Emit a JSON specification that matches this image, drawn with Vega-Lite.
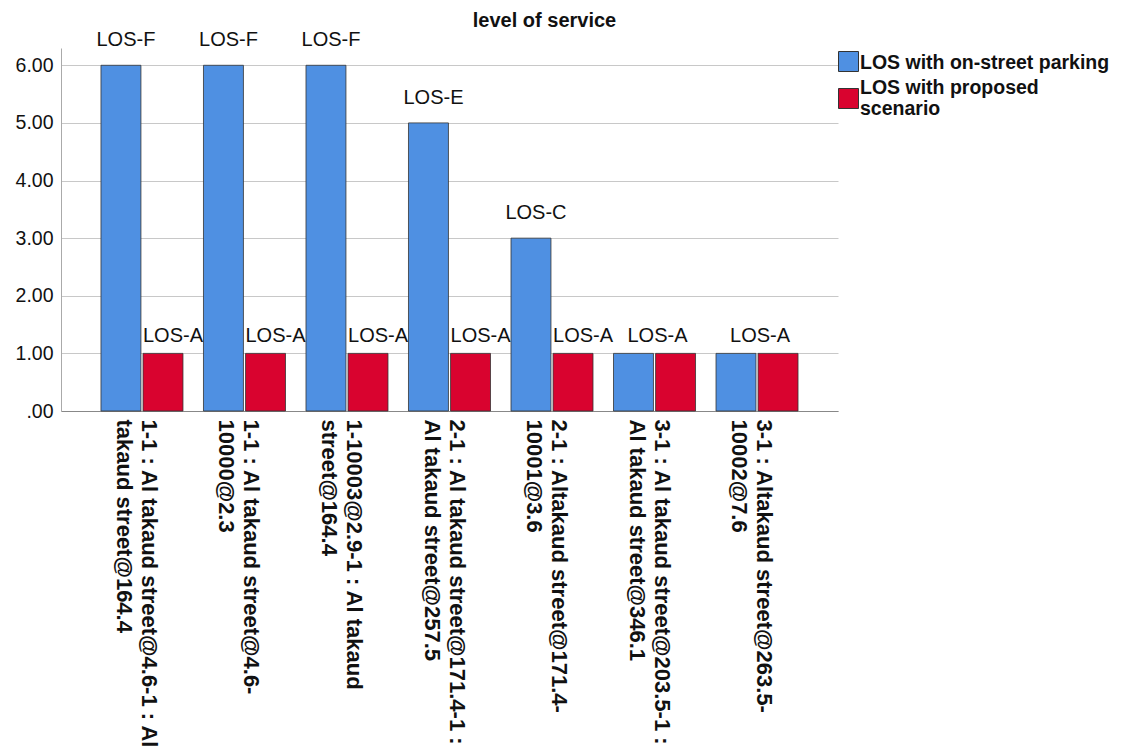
{
  "$schema": "https://vega.github.io/schema/vega-lite/v6.json",
  "width": 777,
  "height": 363,
  "autosize": {"type": "none"},
  "padding": {"left": 61, "top": 48, "right": 294, "bottom": 345},
  "background": "white",
  "title": {
    "text": "level of service",
    "font": "Liberation Sans",
    "fontSize": 20,
    "fontWeight": "bold",
    "color": "#111111",
    "anchor": "middle",
    "frame": "group",
    "dx": 95,
    "offset": -1
  },
  "config": {
    "view": {"stroke": null},
    "font": "Liberation Sans",
    "axis": {"labelColor": "#111111", "titleColor": "#111111"}
  },
  "data": {
    "values": [
      {"cat": "1-1 : Al takaud street@4.6-1 : Al|takaud street@164.4", "series": "LOS with on-street parking", "value": 6, "lbl": "LOS-F", "shared": false},
      {"cat": "1-1 : Al takaud street@4.6-1 : Al|takaud street@164.4", "series": "LOS with proposed scenario", "value": 1, "lbl": "LOS-A", "shared": false},
      {"cat": "1-1 : Al takaud street@4.6-|10000@2.3", "series": "LOS with on-street parking", "value": 6, "lbl": "LOS-F", "shared": false},
      {"cat": "1-1 : Al takaud street@4.6-|10000@2.3", "series": "LOS with proposed scenario", "value": 1, "lbl": "LOS-A", "shared": false},
      {"cat": "1-10003@2.9-1 : Al takaud|street@164.4", "series": "LOS with on-street parking", "value": 6, "lbl": "LOS-F", "shared": false},
      {"cat": "1-10003@2.9-1 : Al takaud|street@164.4", "series": "LOS with proposed scenario", "value": 1, "lbl": "LOS-A", "shared": false},
      {"cat": "2-1 : Al takaud street@171.4-1 :|Al takaud street@257.5", "series": "LOS with on-street parking", "value": 5, "lbl": "LOS-E", "shared": false},
      {"cat": "2-1 : Al takaud street@171.4-1 :|Al takaud street@257.5", "series": "LOS with proposed scenario", "value": 1, "lbl": "LOS-A", "shared": false},
      {"cat": "2-1 : Altakaud street@171.4-|10001@3.6", "series": "LOS with on-street parking", "value": 3, "lbl": "LOS-C", "shared": false},
      {"cat": "2-1 : Altakaud street@171.4-|10001@3.6", "series": "LOS with proposed scenario", "value": 1, "lbl": "LOS-A", "shared": false},
      {"cat": "3-1 : Al takaud street@203.5-1 :|Al takaud street@346.1", "series": "LOS with on-street parking", "value": 1, "lbl": "LOS-A", "shared": true},
      {"cat": "3-1 : Al takaud street@203.5-1 :|Al takaud street@346.1", "series": "LOS with proposed scenario", "value": 1, "lbl": "LOS-A", "shared": true},
      {"cat": "3-1 : Altakaud street@263.5-|10002@7.6", "series": "LOS with on-street parking", "value": 1, "lbl": "LOS-A", "shared": true},
      {"cat": "3-1 : Altakaud street@263.5-|10002@7.6", "series": "LOS with proposed scenario", "value": 1, "lbl": "LOS-A", "shared": true}
    ]
  },
  "encoding": {
    "x": {
      "field": "cat",
      "type": "nominal",
      "sort": null,
      "title": null,
      "scale": {"paddingInner": 0.2, "paddingOuter": 0.39},
      "axis": {
        "labelAngle": 90,
        "labelExpr": "split(datum.label, '|')",
        "labelFontSize": 22,
        "labelFontWeight": "bold",
        "labelLineHeight": 25,
        "labelLimit": 1000,
        "labelOverlap": false,
        "labelPadding": 8,
        "labelOffset": 7,
        "ticks": false,
        "domainColor": "#888888",
        "grid": false
      }
    },
    "y": {
      "field": "value",
      "type": "quantitative",
      "title": null,
      "scale": {"domain": [0, 6.3], "nice": false},
      "axis": {
        "values": [0, 1, 2, 3, 4, 5, 6],
        "labelExpr": "datum.value == 0 ? '.00' : format(datum.value, '.2f')",
        "labelFontSize": 19.5,
        "labelPadding": 8,
        "ticks": false,
        "domainColor": "#aaaaaa",
        "gridColor": "#c8c8c8",
        "grid": true
      }
    }
  },
  "layer": [
    {
      "mark": {"type": "bar", "stroke": "#333333", "strokeWidth": 0.8},
      "encoding": {
        "xOffset": {"field": "series", "type": "nominal", "scale": {"paddingInner": 0.05, "paddingOuter": 0}},
        "color": {
          "field": "series",
          "type": "nominal",
          "scale": {
            "domain": ["LOS with on-street parking", "LOS with proposed scenario"],
            "range": ["#4f90e2", "#d9032f"]
          },
          "legend": {
            "title": null,
            "orient": "none",
            "legendX": 777,
            "legendY": 3,
            "padding": 0,
            "symbolType": "square",
            "symbolSize": 400,
            "symbolStrokeColor": "#333333",
            "symbolStrokeWidth": 1,
            "labelFontSize": 19.5,
            "labelFontWeight": "bold",
            "labelColor": "#111111",
            "labelLineHeight": 21,
            "labelLimit": 400,
            "labelOffset": 1,
            "rowPadding": 3,
            "labelExpr": "datum.label == 'LOS with proposed scenario' ? ['LOS with proposed', 'scenario'] : datum.label",
            "encode": {"labels": {"update": {"dy": {"signal": "datum.value == 'LOS with proposed scenario' ? -11 : 1"}}}}
          }
        }
      }
    },
    {
      "transform": [{"filter": "datum.series == 'LOS with on-street parking' && !datum.shared"}],
      "mark": {"type": "text", "fontSize": 20, "color": "#111111", "baseline": "alphabetic", "dy": -19, "dx": 5},
      "encoding": {
        "xOffset": {"field": "series", "type": "nominal"},
        "text": {"field": "lbl"}
      }
    },
    {
      "transform": [{"filter": "datum.series == 'LOS with proposed scenario' && !datum.shared"}],
      "mark": {"type": "text", "fontSize": 20, "color": "#111111", "baseline": "alphabetic", "dy": -11, "dx": 10},
      "encoding": {
        "xOffset": {"field": "series", "type": "nominal"},
        "text": {"field": "lbl"}
      }
    },
    {
      "transform": [{"filter": "datum.series == 'LOS with proposed scenario' && datum.shared"}],
      "mark": {"type": "text", "fontSize": 20, "color": "#111111", "baseline": "alphabetic", "dy": -11, "dx": 3},
      "encoding": {
        "text": {"field": "lbl"}
      }
    }
  ]
}
